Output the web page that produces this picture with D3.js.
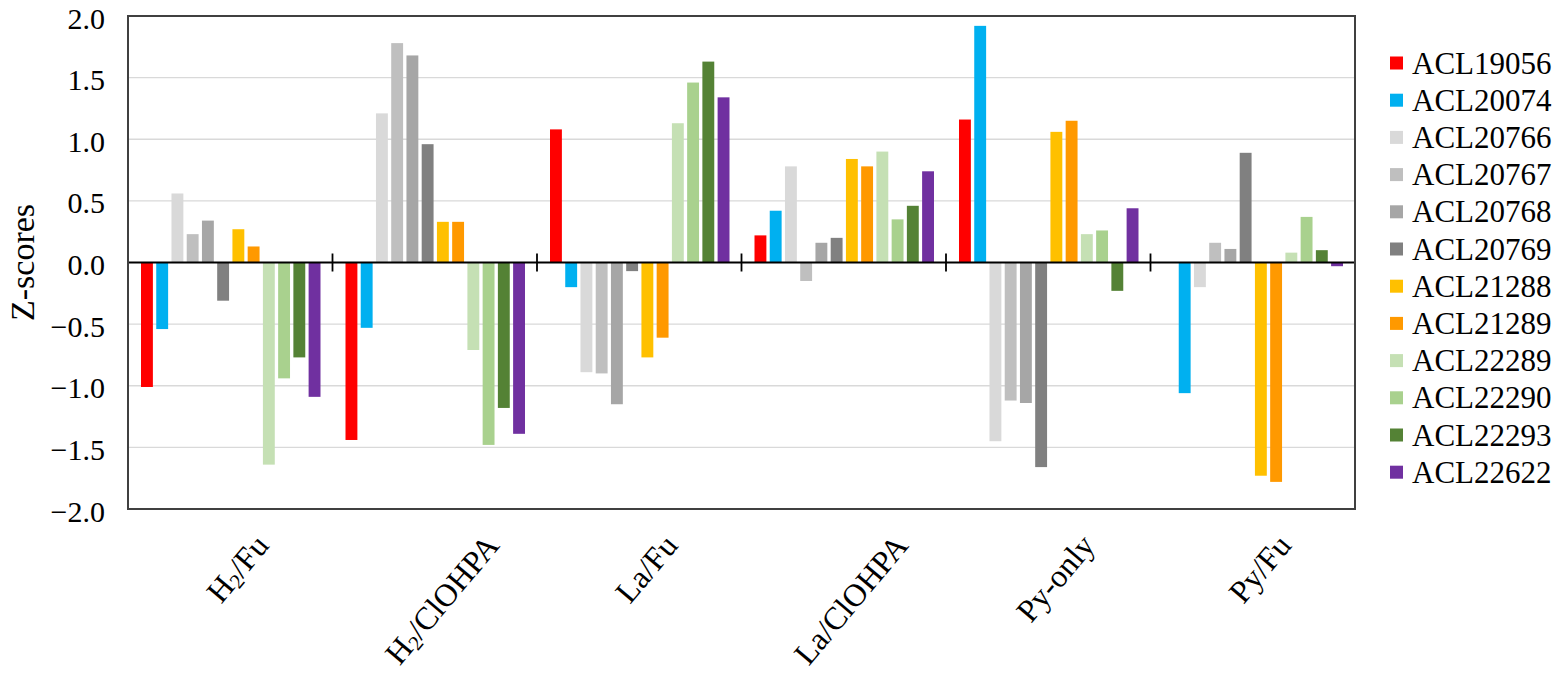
<!DOCTYPE html>
<html>
<head>
<meta charset="utf-8">
<script src="https://cdn.jsdelivr.net/npm/d3@7"></script>
<style>
  body { margin: 0; background: #fff; }
  text { font-family: "Liberation Serif", "Times New Roman", serif; fill: #000; }
</style>
</head>
<body>
<div id="chart"></div>
<script>
// categories (x axis) and series (legend)
var categories = ["H2/Fu", "H2/ClOHPA", "La/Fu", "La/ClOHPA", "Py-only", "Py/Fu"];
var seriesNames = ["ACL19056", "ACL20074", "ACL20766", "ACL20767", "ACL20768", "ACL20769",
                   "ACL21288", "ACL21289", "ACL22289", "ACL22290", "ACL22293", "ACL22622"];
var seriesColors = ["#FF0000", "#00B0F0", "#D9D9D9", "#BFBFBF", "#A6A6A6", "#808080",
                    "#FFC000", "#FF9900", "#C5E0B4", "#A9D18E", "#548235", "#7030A0"];
var yTicks = [-2.0, -1.5, -1.0, -0.5, 0.0, 0.5, 1.0, 1.5, 2.0];

// z-scores per series, in the order of categories
var acl19056 = [-1.01, -1.44,  1.08,  0.22,  1.16,  0.00];
var acl20074 = [-0.54, -0.53, -0.20,  0.42,  1.92, -1.06];
var acl20766 = [ 0.56,  1.21, -0.89,  0.78, -1.45, -0.20];
var acl20767 = [ 0.23,  1.78, -0.90, -0.15, -1.12,  0.16];
var acl20768 = [ 0.34,  1.68, -1.15,  0.16, -1.14,  0.11];
var acl20769 = [-0.31,  0.96, -0.07,  0.20, -1.66,  0.89];
var acl21288 = [ 0.27,  0.33, -0.77,  0.84,  1.06, -1.73];
var acl21289 = [ 0.13,  0.33, -0.61,  0.78,  1.15, -1.78];
var acl22289 = [-1.64, -0.71,  1.13,  0.90,  0.23,  0.08];
var acl22290 = [-0.94, -1.48,  1.46,  0.35,  0.26,  0.37];
var acl22293 = [-0.77, -1.18,  1.63,  0.46, -0.23,  0.10];
var acl22622 = [-1.09, -1.39,  1.34,  0.74,  0.44, -0.03];

var seriesValues = [acl19056, acl20074, acl20766, acl20767, acl20768, acl20769,
                    acl21288, acl21289, acl22289, acl22290, acl22293, acl22622];

// flat table for the bars
var rows = [];
seriesNames.forEach(function(s, i) {
  categories.forEach(function(c, j) {
    rows.push({series: s, cat: c, value: seriesValues[i][j], color: seriesColors[i]});
  });
});

var W = 1560, H = 692;
var plot = {left: 128, right: 1355, top: 16, bottom: 509};

var svg = d3.select("#chart").append("svg")
  .attr("width", W)
  .attr("height", H);

var x0 = d3.scaleBand().domain(categories).range([plot.left, plot.right]).padding(0);
var x1 = d3.scaleBand().domain(seriesNames)
  .range([13, x0.bandwidth() - 12])
  .paddingInner(0.22).paddingOuter(0);
var y = d3.scaleLinear().domain([-2, 2]).range([plot.bottom, plot.top]);

// gridlines
svg.append("g")
  .selectAll("line")
  .data(yTicks.filter(function(d) { return d !== 0 && Math.abs(d) < 2; }))
  .enter().append("line")
    .attr("x1", plot.left).attr("x2", plot.right)
    .attr("y1", function(d) { return y(d); })
    .attr("y2", function(d) { return y(d); })
    .attr("stroke", "#D9D9D9")
    .attr("stroke-width", 1.3);

// bars
svg.append("g")
  .selectAll("rect")
  .data(rows)
  .enter().append("rect")
    .attr("x", function(d) { return x0(d.cat) + x1(d.series); })
    .attr("width", x1.bandwidth())
    .attr("y", function(d) { return y(Math.max(0, d.value)); })
    .attr("height", function(d) { return Math.abs(y(d.value) - y(0)); })
    .attr("fill", function(d) { return d.color; });

// zero axis line with category ticks
svg.append("line")
  .attr("x1", plot.left).attr("x2", plot.right)
  .attr("y1", y(0)).attr("y2", y(0))
  .attr("stroke", "#000")
  .attr("stroke-width", 1.8);

svg.append("g")
  .selectAll("line")
  .data(categories.slice(1))
  .enter().append("line")
    .attr("x1", function(d) { return x0(d); })
    .attr("x2", function(d) { return x0(d); })
    .attr("y1", y(0) - 9)
    .attr("y2", y(0) + 9)
    .attr("stroke", "#000")
    .attr("stroke-width", 1.8);

// plot border
svg.append("rect")
  .attr("x", plot.left).attr("y", plot.top)
  .attr("width", plot.right - plot.left)
  .attr("height", plot.bottom - plot.top)
  .attr("fill", "none")
  .attr("stroke", "#404040")
  .attr("stroke-width", 2);

// y axis labels
var yAxis = d3.axisLeft(y)
  .tickValues(yTicks)
  .tickSize(0)
  .tickPadding(23)
  .tickFormat(d3.format(".1f"));

svg.append("g")
  .attr("transform", "translate(" + plot.left + ",0)")
  .call(yAxis)
  .call(function(g) { g.select(".domain").remove(); })
  .selectAll("text")
    .attr("dy", "0.4em")
    .style("font-family", "'Liberation Serif', serif")
    .style("font-size", "30px")
    .attr("fill", "#000");

// y axis title
svg.append("text")
  .attr("transform", "translate(22," + ((plot.top + plot.bottom) / 2) + ") rotate(-90)")
  .attr("text-anchor", "middle")
  .attr("dominant-baseline", "central")
  .style("font-size", "34px")
  .text("Z-scores");

// category labels, rotated and centred under each band
var labelTop = 530;
var labelSize = 32;
var angle = 50;
var rad = angle * Math.PI / 180;
categories.forEach(function(c) {
  var t = svg.append("text")
    .attr("text-anchor", "middle")
    .attr("dominant-baseline", "central")
    .style("font-size", labelSize + "px");
  var m = c.match(/^(H)2(\/.*)$/);
  if (m) {
    t.append("tspan").text(m[1]);
    t.append("tspan").attr("dy", 8).style("font-size", "21px").text("2");
    t.append("tspan").attr("dy", -8).text(m[2]);
  } else {
    t.text(c);
  }
  var len = t.node().getComputedTextLength();
  var half = (len * Math.sin(rad) + labelSize * 0.9 * Math.cos(rad)) / 2;
  var cx = x0(c) + x0.bandwidth() / 2 + 7;
  t.attr("transform", "translate(" + cx + "," + (labelTop + half) + ") rotate(" + (-angle) + ")");
});

// legend
var legend = svg.append("g")
  .selectAll("g")
  .data(seriesNames)
  .enter().append("g")
    .attr("transform", function(d, i) { return "translate(1390," + (63 + i * 37.2) + ")"; });

legend.append("rect")
  .attr("x", 0).attr("y", -6.5)
  .attr("width", 13).attr("height", 13)
  .attr("fill", function(d, i) { return seriesColors[i]; });

legend.append("text")
  .attr("x", 22)
  .attr("dominant-baseline", "central")
  .style("font-size", "31px")
  .text(function(d) { return d; });
</script>
</body>
</html>
